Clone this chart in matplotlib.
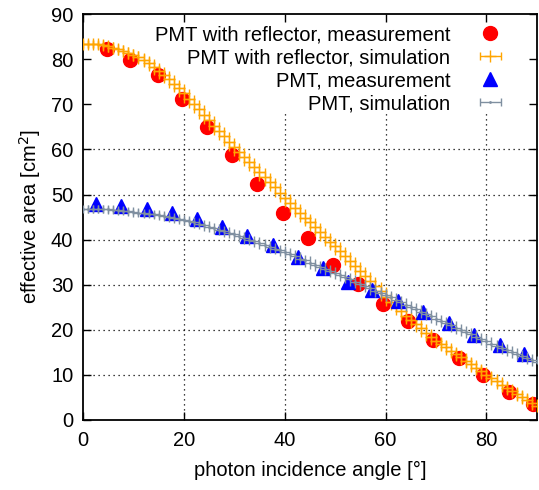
import matplotlib
matplotlib.use('Agg')
import matplotlib.pyplot as plt
import numpy as np

plt.rcParams['font.family'] = ['Liberation Sans', 'DejaVu Sans']
plt.rcParams['font.size'] = 14.5

# measured, PMT with reflector
refl_meas_x = [4.7, 9.4, 14.8, 19.6, 24.6, 29.5, 34.5, 39.6, 44.6, 49.5,
               54.5, 59.4, 64.5, 69.4, 74.5, 79.4, 84.4, 89.3]
refl_meas_y = [82.3, 79.9, 76.5, 71.2, 65.0, 58.8, 52.4, 45.8, 40.3, 34.3,
               30.1, 25.7, 21.9, 17.7, 13.7, 10.0, 6.2, 3.5]

# measured, bare PMT
pmt_meas_x = [2.6, 7.5, 12.6, 17.6, 22.6, 27.5, 32.6, 37.6, 42.6, 47.5,
              52.5, 57.4, 62.4, 67.5, 72.6, 77.6, 82.6, 87.5]
pmt_meas_y = [48.0, 47.5, 46.8, 46.0, 44.5, 42.8, 40.7, 38.7, 36.1, 33.6,
              30.5, 28.8, 26.3, 23.9, 21.5, 18.8, 16.6, 14.6]

# simulations, one value per degree 0..90
sim_x = list(range(0, 91))
refl_sim_y = [83.5, 83.5, 83.4, 83.3, 83.1, 82.9, 82.6, 82.3, 81.9, 81.5, 81.0,
              80.4, 79.8, 79.1, 78.3, 77.5, 76.6, 75.6, 74.6, 73.6, 72.5,
              71.3, 70.1, 68.9, 67.7, 66.5, 65.3, 64.1, 62.9, 61.7, 60.5,
              59.4, 58.3, 57.2, 56.0, 54.9, 53.8, 52.7, 51.6, 50.4, 49.3,
              48.2, 47.1, 46.0, 44.9, 43.8, 42.7, 41.6, 40.6, 39.5, 38.5,
              37.4, 36.3, 35.2, 34.2, 33.1, 32.0, 30.8, 29.6, 28.5, 27.3,
              26.2, 25.2, 24.2, 23.1, 22.1, 21.2, 20.3, 19.3, 18.4, 17.5,
              16.8, 16.1, 15.3, 14.6, 13.9, 13.1, 12.3, 11.6, 10.8, 10.0,
              9.3, 8.6, 7.8, 7.1, 6.4, 5.8, 5.1, 4.5, 3.8, 3.2]
pmt_sim_y = [46.9, 46.9, 46.9, 46.8, 46.8, 46.7, 46.6, 46.5, 46.4, 46.3, 46.2,
             46.0, 45.9, 45.7, 45.6, 45.4, 45.2, 45.0, 44.8, 44.6, 44.4,
             44.1, 43.8, 43.5, 43.2, 42.9, 42.6, 42.2, 41.9, 41.5, 41.2,
             40.8, 40.4, 40.0, 39.6, 39.2, 38.8, 38.4, 38.0, 37.6, 37.2,
             36.7, 36.3, 35.8, 35.4, 34.9, 34.4, 34.0, 33.5, 33.1, 32.6,
             32.1, 31.6, 31.2, 30.7, 30.2, 29.7, 29.2, 28.7, 28.2, 27.7,
             27.2, 26.6, 26.1, 25.6, 25.1, 24.6, 24.0, 23.5, 23.0, 22.5,
             22.0, 21.5, 21.0, 20.5, 20.0, 19.5, 19.0, 18.4, 17.9, 17.4,
             16.9, 16.4, 16.0, 15.5, 15.0, 14.6, 14.2, 13.7, 13.3, 12.8]
sim_xerr = 1.0

fig = plt.figure(figsize=(5.39, 4.90), dpi=100)
ax = fig.add_axes([0.154, 0.143, 0.842, 0.828])

# grid (hidden behind the key box at the top, like the original)
grid_kw = dict(colors='black', linestyles=(0, (1, 3)), linewidth=0.9, zorder=0.5)
ax.hlines([10, 20, 30, 40, 50, 60], 0, 90, **grid_kw)
ax.vlines([20, 40, 60, 80], 0, 68, **grid_kw)

h1, = ax.plot(refl_meas_x, refl_meas_y, 'o', color='#ff0000', markersize=10,
              zorder=2)
h2 = ax.errorbar(sim_x, refl_sim_y, xerr=sim_xerr, fmt='+', color='#ffa500',
                 markersize=9, mew=1, elinewidth=1, capsize=3, capthick=1,
                 zorder=3)
h3, = ax.plot(pmt_meas_x, pmt_meas_y, '^', color='#0000ff', markersize=10,
              zorder=4)
h4 = ax.errorbar(sim_x, pmt_sim_y, xerr=sim_xerr, fmt='.', color='#7f8fa0',
                 markersize=2, elinewidth=1, capsize=3, capthick=1,
                 zorder=5)

ax.set_xlim(0, 90)
ax.set_ylim(0, 90)
ax.set_xticks([0, 20, 40, 60, 80])
ax.set_yticks(range(0, 91, 10))
ax.tick_params(direction='in', length=6, width=1, top=True, right=True)
ax.tick_params(axis='x', pad=8)
ax.tick_params(axis='y', pad=7)
for s in ax.spines.values():
    s.set_linewidth(1.3)

ax.set_xlabel('photon incidence angle [°]', labelpad=8)
ax.set_ylabel('effective area [cm$^2$]', labelpad=6)

ax.legend([h1, h2, h3, h4],
          ['PMT with reflector, measurement', 'PMT with reflector, simulation',
           'PMT, measurement', 'PMT, simulation'],
          loc='upper right', bbox_to_anchor=(0.96, 0.973), frameon=False,
          markerfirst=False, handlelength=2.8, handletextpad=0.6,
          labelspacing=0.2, borderpad=0, borderaxespad=0, numpoints=1)

fig.savefig('out.png', dpi=100)
